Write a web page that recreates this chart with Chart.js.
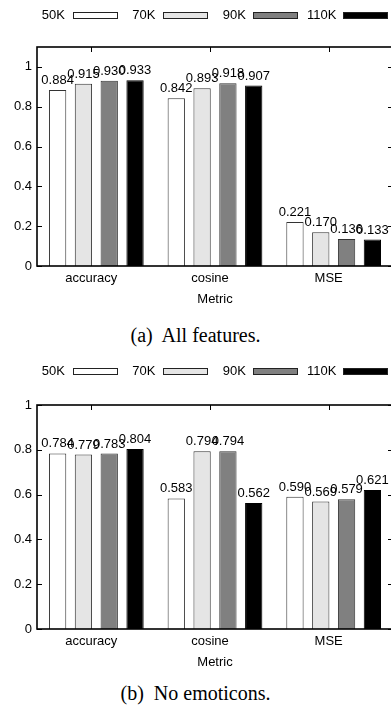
<!DOCTYPE html>
<html>
<head>
<meta charset="utf-8">
<script src="https://cdn.jsdelivr.net/npm/chart.js@4.4.0/dist/chart.umd.min.js"></script>
<style>
  html, body { margin: 0; padding: 0; background: #fff; }
  body { width: 391px; height: 711px; position: relative; overflow: hidden; }
  .wrap { position: absolute; left: 0; width: 397px; }
  .caption {
    position: absolute; left: 0; width: 391px; text-align: center;
    font-family: "Liberation Serif", "Times New Roman", serif; font-size: 20px; color: #000;
    line-height: 24px;
  }
</style>
</head>
<body>
<div class="wrap" style="top:0;height:307px"><canvas id="chartA" width="397" height="307"></canvas></div>
<div class="caption" style="top:323px">(a)&nbsp; All features.</div>
<div class="wrap" style="top:355px;height:315px"><canvas id="chartB" width="397" height="315"></canvas></div>
<div class="caption" style="top:681px">(b)&nbsp; No emoticons.</div>
<script>
// categories and series
const metrics = ["accuracy", "cosine", "MSE"];
const seriesNames = ["50K", "70K", "90K", "110K"];
const seriesColors = ["#ffffff", "#e5e5e5", "#808080", "#000000"];

// (a) All features
const allFeat50K = [0.884, 0.842, 0.221];
const allFeat70K = [0.915, 0.893, 0.170];
const allFeat90K = [0.930, 0.918, 0.136];
const allFeat110K = [0.933, 0.907, 0.133];

// (b) No emoticons
const noEmo50K = [0.784, 0.583, 0.590];
const noEmo70K = [0.779, 0.794, 0.569];
const noEmo90K = [0.783, 0.794, 0.579];
const noEmo110K = [0.804, 0.562, 0.621];

const yTicks = [0, 0.2, 0.4, 0.6, 0.8, 1];

const FONT = "'Liberation Sans', Arial, Helvetica, sans-serif";

// draws the gnuplot-like frame, inward ticks, value labels and key
const gnuplotLook = {
  id: "gnuplotLook",
  afterDatasetsDraw(chart, args, opts) {
    const ctx = chart.ctx;
    const area = chart.chartArea;
    const x = chart.scales.x;
    const y = chart.scales.y;
    ctx.save();

    // value labels above the bars
    ctx.font = "13px " + FONT;
    ctx.fillStyle = "#000";
    ctx.textAlign = "center";
    ctx.textBaseline = "bottom";
    chart.data.datasets.forEach((ds, i) => {
      chart.getDatasetMeta(i).data.forEach((bar, j) => {
        ctx.fillText(ds.data[j].toFixed(3), bar.x, bar.y - 3);
      });
    });

    // frame
    ctx.strokeStyle = "#000";
    ctx.lineWidth = 1.6;
    ctx.strokeRect(area.left, area.top, area.right - area.left, area.bottom - area.top);

    // inward ticks
    ctx.lineWidth = 1;
    ctx.beginPath();
    y.ticks.forEach((t) => {
      const py = Math.round(y.getPixelForValue(t.value)) + 0.5;
      ctx.moveTo(area.left, py);
      ctx.lineTo(area.left + 5, py);
      ctx.moveTo(area.right, py);
      ctx.lineTo(area.right - 5, py);
    });
    x.ticks.forEach((t, i) => {
      const px = Math.round(x.getPixelForTick(i) - 5) + 0.5;
      ctx.moveTo(px, area.top);
      ctx.lineTo(px, area.top + 5);
    });
    ctx.stroke();

    // key
    const ky = area.top - opts.keyGap;
    ctx.font = "13px " + FONT;
    ctx.textAlign = "right";
    ctx.textBaseline = "middle";
    chart.data.datasets.forEach((ds, i) => {
      const textRight = 65 + 90.5 * i;
      const boxLeft = 73 + 90 * i;
      ctx.fillStyle = "#000";
      ctx.fillText(ds.label, textRight, ky);
      ctx.fillStyle = ds.backgroundColor;
      ctx.fillRect(boxLeft, ky - 3, 44, 6);
      ctx.strokeStyle = "#222";
      ctx.strokeRect(boxLeft + 0.5, ky - 3 + 0.5, 44, 6);
    });
    ctx.restore();
  }
};

function makeChart(id, seriesData, yMax, padTop, keyGap) {
  return new Chart(document.getElementById(id).getContext("2d"), {
    type: "bar",
    data: {
      labels: metrics,
      datasets: seriesData.map((vals, i) => ({
        label: seriesNames[i],
        data: vals,
        backgroundColor: seriesColors[i],
        borderColor: i === 3 ? "#000" : "#333",
        borderWidth: 1,
        borderSkipped: "bottom",
        categoryPercentage: 0.87,
        barPercentage: 0.67
      }))
    },
    options: {
      responsive: false,
      animation: false,
      layout: { padding: { top: padTop, left: 0, right: 4, bottom: 0 } },
      plugins: {
        legend: { display: false },
        tooltip: { enabled: false },
        gnuplotLook: { keyGap: keyGap }
      },
      scales: {
        x: {
          grid: { display: false, drawTicks: false },
          border: { display: false },
          ticks: { font: { size: 13, family: FONT }, color: "#000", padding: 5, labelOffset: -5, maxRotation: 0 },
          title: { display: true, text: "Metric", font: { size: 13, family: FONT }, color: "#000", padding: 0 },
          afterFit: (scale) => { scale.height = 41; }
        },
        y: {
          min: 0,
          max: yMax,
          grid: { display: false, drawTicks: false },
          border: { display: false },
          afterBuildTicks: (scale) => { scale.ticks = yTicks.map((v) => ({ value: v })); },
          ticks: {
            font: { size: 13, family: FONT },
            color: "#000",
            padding: 5,
            callback: (v) => (v === 0 || v === 1 ? String(v) : v.toFixed(1))
          },
          afterFit: (scale) => { scale.width = 37; }
        }
      }
    },
    plugins: [gnuplotLook]
  });
}

makeChart("chartA", [allFeat50K, allFeat70K, allFeat90K, allFeat110K], 1.1, 47, 32);
makeChart("chartB", [noEmo50K, noEmo70K, noEmo90K, noEmo110K], 1, 50, 34);
</script>
</body>
</html>
